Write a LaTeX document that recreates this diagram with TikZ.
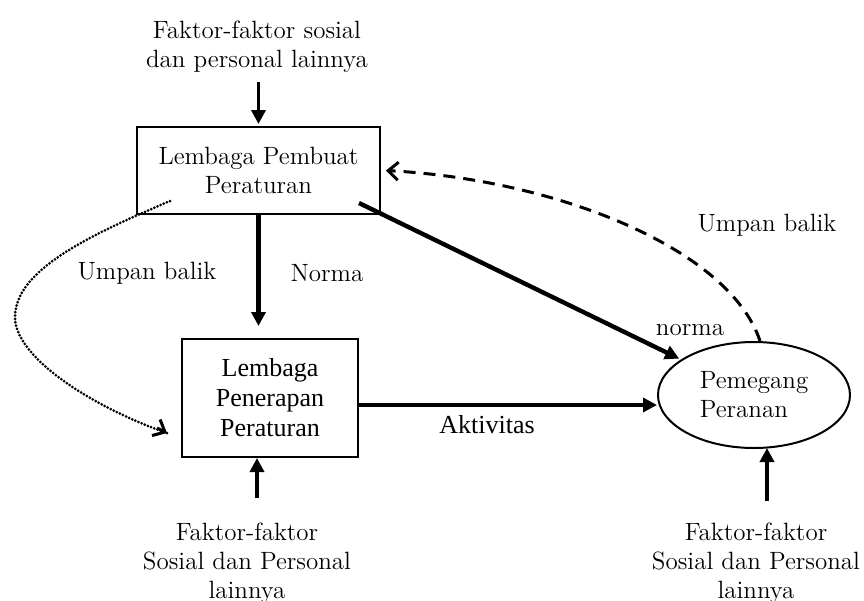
\documentclass[tikz,border=0pt]{standalone}
\usepackage{fontspec}
\newfontfamily\tnr{Liberation Serif}
\usetikzlibrary{arrows.meta,shapes.geometric}

\begin{document}
\begin{tikzpicture}[x=0.5pt,y=-0.5pt,
    lbl/.style={font=\fontsize{12.5}{14.5}\selectfont,align=center,inner sep=1pt},
    tlbl/.style={font=\tnr\fontsize{13}{15}\selectfont,align=center,inner sep=1pt},
    arr/.style={-{Triangle[length=7pt,width=7pt]},line width=2.2pt},
    farr/.style={-{Triangle[length=7pt,width=7pt]},line width=1.8pt}]
    \useasboundingbox (0,0) rectangle (864,601);

    % Boxes and the ellipse
    \node[draw,line width=1pt,minimum width=121.5pt,minimum height=43.5pt,lbl] (lpp) at (258.5,170.5)
      {Lembaga Pembuat\\Peraturan};
    \node[draw,line width=1pt,minimum width=88pt,minimum height=59pt,tlbl] (lpr) at (270,398)
      {Lembaga\\Penerapan\\Peraturan};
    \node[draw,ellipse,line width=1pt,minimum width=96pt,minimum height=53pt,inner sep=0pt,
      lbl,align=left] (pp) at (754,395) {Pemegang\\Peranan};

    % Outside factors
    \node[lbl] (ftop) at (257,47) {Faktor-faktor sosial\\dan personal lainnya};
    \node[lbl] (flpr) at (247,563) {Faktor-faktor\\Sosial dan Personal\\lainnya};
    \node[lbl] (fpp) at (756,563) {Faktor-faktor\\Sosial dan Personal\\lainnya};

    \draw[farr] ([yshift=22pt]lpp.north) -- ([yshift=1pt]lpp.north);
    \draw[farr] ([xshift=-6.5pt,yshift=-20pt]lpr.south) -- ([xshift=-6.5pt]lpr.south);
    \draw[farr] ([xshift=6.5pt,yshift=-26pt]pp.south) -- ([xshift=6.5pt,yshift=0.5pt]pp.south);

    % Norms and activity
    \draw[arr,shorten >=6pt] (lpp.south) -- (lpp.south |- lpr.north);
    \node[lbl] (norma1) at (327,273) {Norma};
    \draw[arr,shorten >=1pt] ([xshift=-11pt,yshift=6pt]lpp.south east) -- (pp);
    \node[lbl] (norma2) at (690,330) {norma};
    \draw[arr] ([yshift=-3.5pt]lpr.east) -- ([yshift=-3.5pt]lpr.east -| pp.west);
    \node[tlbl] (akt) at (487,425) {Aktivitas};

    % Feedback
    \draw[line width=1.5pt,dash pattern=on 6pt off 4pt,-{Straight Barb[length=5pt,width=9pt]}]
      ([xshift=3pt]pp.north) .. controls (730,250) and (560,180) .. ([xshift=2.5pt]lpp.east);
    \node[lbl] (ub1) at (767,225) {Umpan balik};
    \coordinate (bend) at (15,317);
    \draw[line width=1.5pt,line cap=round,dash pattern=on 0pt off 1.7pt]
      ([xshift=17pt,yshift=7pt]lpp.south west) .. controls (90,235) and (15,270) .. (bend)
      .. controls (15,360) and (100,410) .. ([xshift=-7pt,yshift=-17.5pt]lpr.west);
    \draw[line width=1.5pt,-{Straight Barb[length=5pt,width=9pt]}]
      ([xshift=-12pt,yshift=-15pt]lpr.west) -- ([xshift=-7pt,yshift=-17.5pt]lpr.west);
    \node[lbl] (ub2) at (147,273) {Umpan balik};
  \end{tikzpicture}
\end{document}
